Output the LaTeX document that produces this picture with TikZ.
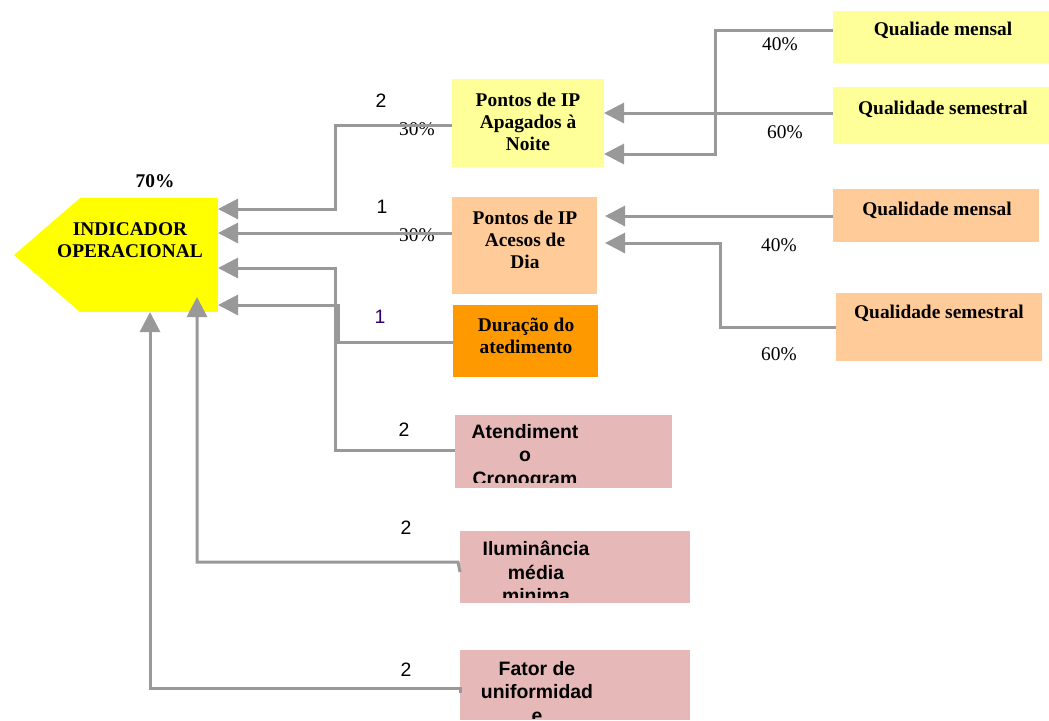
\documentclass[tikz,border=0pt]{standalone}
\usepackage{fontspec}
\setmainfont{Liberation Serif}
\setsansfont{Liberation Sans}
\usetikzlibrary{arrows.meta,fit}

\definecolor{indyellow}{HTML}{FFFF00}
\definecolor{lightyellow}{HTML}{FFFF99}
\definecolor{peach}{HTML}{FFCC99}
\definecolor{deeporange}{HTML}{FF9900}
\definecolor{rosebox}{HTML}{E6B9B8}
\definecolor{linegray}{HTML}{999999}
\definecolor{numpurple}{HTML}{330066}

\tikzset{
  box/.style={inner sep=0pt, outer sep=0pt, draw=none},
  sertxt/.style={align=center, inner sep=0pt, font=\fontsize{9.7}{11}\selectfont\bfseries},
  santxt/.style={align=center, inner sep=0pt, font=\sffamily\fontsize{9.7}{11.8}\selectfont\bfseries},
  pct/.style={inner sep=0pt, font=\fontsize{9.7}{11}\selectfont},
  num/.style={inner sep=0pt, font=\sffamily\fontsize{9.7}{11}\selectfont},
  conn/.style={draw=linegray, line width=1.5pt, -{Triangle[length=10pt,width=10pt]}}
}

\begin{document}
\begin{tikzpicture}[x=0.5pt,y=-0.5pt]
\useasboundingbox (0,0) rectangle (1049,720);

\node[box, fit={(80,198) (218,312)}, fill=indyellow] (ind) {};
\fill[indyellow] (ind.north west) -- (14,255) -- (ind.south west) -- cycle;
\node[box, fit={(452,79) (604,167)}, fill=lightyellow] (apagados) {};
\node[box, fit={(452,197) (597,294)}, fill=peach] (acesos) {};
\node[box, fit={(453,305) (598,377)}, fill=deeporange] (duracao) {};
\node[box, fit={(455,415) (672,488)}, fill=rosebox] (atend) {};
\node[box, fit={(460,531) (690,603)}, fill=rosebox] (ilum) {};
\node[box, fit={(460,650) (690,720)}, fill=rosebox] (fator) {};
\node[box, fit={(833,11) (1049,63)}, fill=lightyellow] (qmA) {};
\node[box, fit={(833,87) (1049,144)}, fill=lightyellow] (qsA) {};
\node[box, fit={(833,189) (1039,242)}, fill=peach] (qmB) {};
\node[box, fit={(836,293) (1042,361)}, fill=peach] (qsB) {};

\node[sertxt] (ind-txt) at (130,240) {INDICADOR\\OPERACIONAL};
\node[sertxt] (apagados-txt) at (528,122) {Pontos de IP\\Apagados à\\Noite};
\node[sertxt] (acesos-txt) at (525,240) {Pontos de IP\\Acesos de\\Dia};
\node[sertxt] (duracao-txt) at (526,336) {Duração do\\atedimento};
\node[sertxt] (qmA-txt) at (943,30) {Qualiade mensal};
\node[sertxt] (qsA-txt) at (943,109) {Qualidade semestral};
\node[sertxt] (qmB-txt) at (937,210) {Qualidade mensal};
\node[sertxt] (qsB-txt) at (939,313) {Qualidade semestral};
\begin{scope}
  \clip (atend.north west) rectangle (672,482);
  \node[santxt] (atend-txt) at (525,457) {Atendiment\\o\\Cronogram};
\end{scope}
\begin{scope}
  \clip (ilum.north west) rectangle (690,597);
  \node[santxt] (ilum-txt) at (536,572) {Iluminância\\média\\minima};
\end{scope}
\begin{scope}
  \clip (fator.north west) rectangle (690,718);
  \node[santxt] (fator-txt) at (537,692) {Fator de\\uniformidad\\e};
\end{scope}

\node[pct, font=\fontsize{9.7}{11}\selectfont\bfseries] (p70) at (155,181) {70\%};
\node[num] (nA) at (381,101) {2};
\node[pct] (pA) at (417,129) {30\%};
\node[num] (nB) at (382,207) {1};
\node[pct] (pB) at (417,235) {30\%};
\node[num, text=numpurple] (nC) at (380,317) {1};
\node[num] (nD) at (404,430) {2};
\node[num] (nE) at (406,528) {2};
\node[num] (nF) at (406,670) {2};
\node[pct] (pC) at (780,44) {40\%};
\node[pct] (pD) at (785,132) {60\%};
\node[pct] (pE) at (779,245) {40\%};
\node[pct] (pF) at (779,354) {60\%};

\draw[conn] (apagados.west |- 0,125) -- (335,125) |- (ind.east |- 0,209);
\draw[conn] (acesos.west |- 0,233) -- (ind.east |- 0,233);
\draw[conn] (atend.west |- 0,450) -- (335,450) |- (ind.east |- 0,268);
\draw[conn] (duracao.west |- 0,342) -- (338,342) |- (ind.east |- 0,305);
\draw[conn] (ilum.west |- 0,572) -- (458,562) -| (197,297);
\draw[conn] (fator.west |- 0,693) -- (460,688) -| (ind.south -| 150,0);

\draw[conn] (qmA.west |- 0,30) -- (715,30) |- (apagados.east |- 0,154);
\draw[conn] (qsA.west |- 0,113) -- (apagados.east |- 0,113);
\draw[conn, shorten >=4pt] (qmB.west |- 0,216) -- (acesos.east |- 0,216);
\draw[conn, shorten >=4pt] (qsB.west |- 0,327) -- (720,327) |- (acesos.east |- 0,243);

\end{tikzpicture}
\end{document}
